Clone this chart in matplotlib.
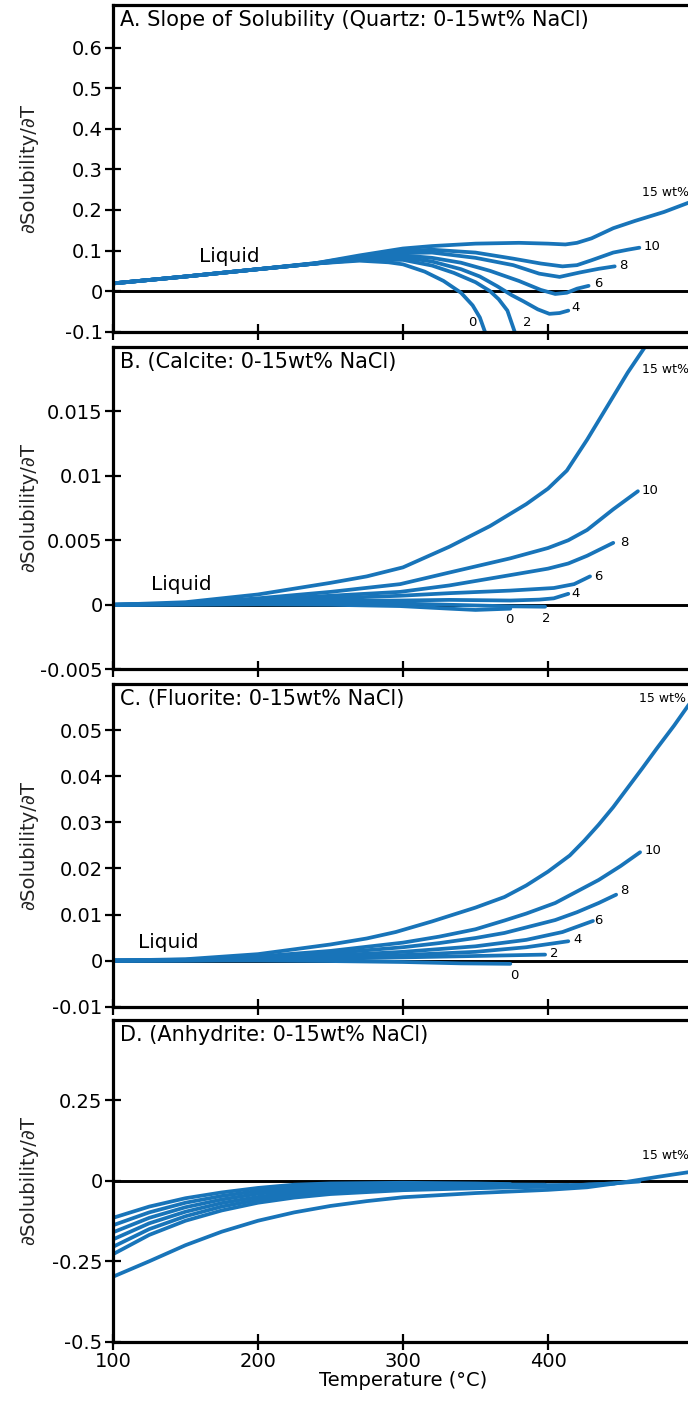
import matplotlib
matplotlib.use("Agg")
import matplotlib.pyplot as plt

plt.rcParams['font.family'] = ['DejaVu Sans']

BLUE = '#1874b9'

# ---------------- shared axis data ----------------
temp_ticks = [100, 200, 300, 400, 500]
temp_tick_labels = ['100', '200', '300', '400', '']
salinity_names = ['0', '2', '4', '6', '8', '10', '15 wt%']

# ---------------- A. Quartz ----------------
qz_yticks = [-0.1, 0, 0.1, 0.2, 0.3, 0.4, 0.5, 0.6]
qz_ylabels = ['-0.1', '0', '0.1', '0.2', '0.3', '0.4', '0.5', '0.6']

qz_T0 = [100, 150, 200, 240, 270, 290, 300, 315, 328, 340, 348, 353, 356.5]
qz_v0 = [0.019, 0.036, 0.054, 0.068, 0.075, 0.071, 0.066, 0.048, 0.025, -0.004, -0.035, -0.065, -0.1]
qz_T2 = [100, 150, 200, 240, 270, 300, 320, 335, 350, 360, 366, 372, 377]
qz_v2 = [0.019, 0.036, 0.054, 0.068, 0.077, 0.077, 0.063, 0.045, 0.022, 0.0, -0.02, -0.048, -0.1]
qz_T4 = [100, 150, 200, 240, 270, 300, 320, 340, 353, 365, 375, 383, 393, 401, 408, 414]
qz_v4 = [0.019, 0.036, 0.054, 0.068, 0.079, 0.083, 0.073, 0.054, 0.036, 0.012, -0.01, -0.025, -0.045, -0.056, -0.054, -0.048]
qz_T6 = [100, 150, 200, 240, 270, 300, 320, 340, 360, 380, 395, 405, 413, 420, 428]
qz_v6 = [0.019, 0.036, 0.054, 0.068, 0.081, 0.088, 0.082, 0.07, 0.05, 0.025, 0.003, -0.007, -0.004, 0.006, 0.013]
qz_T8 = [100, 150, 200, 240, 270, 300, 320, 350, 376, 394, 408, 422, 435, 446]
qz_v8 = [0.019, 0.036, 0.054, 0.068, 0.083, 0.094, 0.095, 0.082, 0.064, 0.043, 0.035, 0.046, 0.055, 0.061]
qz_T10 = [100, 150, 200, 240, 270, 300, 320, 350, 376, 395, 410, 420, 430, 445, 455, 463]
qz_v10 = [0.019, 0.036, 0.054, 0.069, 0.085, 0.099, 0.102, 0.095, 0.08, 0.068, 0.061, 0.064, 0.076, 0.095, 0.102, 0.107]
qz_T15 = [100, 150, 200, 240, 270, 300, 320, 350, 380, 400, 412, 420, 430, 445, 460, 480, 500]
qz_v15 = [0.019, 0.036, 0.054, 0.069, 0.088, 0.105, 0.111, 0.117, 0.119, 0.117, 0.115, 0.119, 0.13, 0.155, 0.173, 0.195, 0.222]

# ---------------- B. Calcite ----------------
cc_yticks = [-0.005, 0, 0.005, 0.01, 0.015]
cc_ylabels = ['-0.005', '0', '0.005', '0.01', '0.015']

cc_T0 = [100, 150, 200, 250, 298, 332, 350, 374]
cc_v0 = [0, 0.0, 0.00003, 0.0, -0.0001, -0.0003, -0.0004, -0.0003]
cc_T2 = [100, 150, 200, 250, 298, 332, 374, 398]
cc_v2 = [0, 0.00005, 0.0001, 0.00015, 0.0001, 0.0, -0.00012, -0.00015]
cc_T4 = [100, 150, 200, 250, 298, 332, 374, 394, 404, 414]
cc_v4 = [0, 0.00005, 0.0002, 0.0003, 0.00033, 0.00038, 0.00033, 0.0004, 0.0005, 0.00085]
cc_T6 = [100, 150, 200, 250, 298, 332, 374, 404, 418, 429]
cc_v6 = [0, 0.0001, 0.0003, 0.0005, 0.0007, 0.0009, 0.0011, 0.0013, 0.0016, 0.0022]
cc_T8 = [100, 150, 200, 250, 298, 332, 374, 400, 414, 427, 445]
cc_v8 = [0, 0.0001, 0.0004, 0.0007, 0.0010, 0.0015, 0.0023, 0.0028, 0.0032, 0.0038, 0.0048]
cc_T10 = [100, 150, 200, 250, 298, 332, 374, 400, 414, 427, 445, 462]
cc_v10 = [0, 0.0001, 0.0005, 0.0010, 0.0016, 0.0025, 0.0036, 0.0044, 0.0050, 0.0058, 0.0074, 0.0088]
cc_T15 = [100, 150, 200, 250, 275, 300, 332, 360, 385, 400, 413, 427, 441, 455, 470]
cc_v15 = [0, 0.0002, 0.0008, 0.0017, 0.0022, 0.0029, 0.0045, 0.0061, 0.0078, 0.0090, 0.0104, 0.0128, 0.0154, 0.018, 0.0205]

# ---------------- C. Fluorite ----------------
fl_yticks = [-0.01, 0, 0.01, 0.02, 0.03, 0.04, 0.05]
fl_ylabels = ['-0.01', '0', '0.01', '0.02', '0.03', '0.04', '0.05']

fl_T0 = [100, 200, 250, 300, 340, 374]
fl_v0 = [0, 0, -0.0001, -0.0003, -0.0006, -0.0007]
fl_T2 = [100, 150, 200, 250, 300, 350, 398]
fl_v2 = [0, 0.0, 0.0002, 0.0004, 0.0007, 0.001, 0.0013]
fl_T4 = [100, 150, 200, 250, 300, 350, 385, 414]
fl_v4 = [0, 0.0001, 0.0003, 0.0007, 0.0012, 0.0019, 0.0029, 0.0042]
fl_T6 = [100, 150, 200, 250, 300, 350, 385, 410, 431]
fl_v6 = [0, 0.0001, 0.0005, 0.0011, 0.0019, 0.0031, 0.0045, 0.0062, 0.0086]
fl_T8 = [100, 150, 200, 250, 300, 325, 350, 370, 385, 405, 420, 435, 447]
fl_v8 = [0, 0.0001, 0.0007, 0.0016, 0.0029, 0.0038, 0.0049, 0.0060, 0.0072, 0.0088, 0.0105, 0.0125, 0.0143]
fl_T10 = [100, 150, 200, 250, 300, 325, 350, 370, 385, 405, 420, 435, 450, 463.5]
fl_v10 = [0, 0.0002, 0.0009, 0.0021, 0.0039, 0.0052, 0.0068, 0.0087, 0.0102, 0.0125, 0.015, 0.0175, 0.0205, 0.0235]
fl_T15 = [100, 150, 200, 250, 275, 295, 320, 350, 370, 385, 400, 415, 425, 435, 445, 455, 465, 475, 487, 500]
fl_v15 = [0, 0.0003, 0.0014, 0.0035, 0.0048, 0.0062, 0.0085, 0.0115, 0.0138, 0.0163, 0.0193, 0.0228, 0.026, 0.0295,
          0.0333, 0.0375, 0.0417, 0.046, 0.051, 0.0568]

# ---------------- D. Anhydrite ----------------
an_yticks = [-0.5, -0.25, 0, 0.25]
an_ylabels = ['-0.5', '-0.25', '0', '0.25']

an_T0 = [100, 125, 150, 175, 200, 225, 250, 300, 350, 374]
an_v0 = [-0.115, -0.08, -0.054, -0.036, -0.022, -0.012, -0.008, -0.006, -0.008, -0.01]
an_T2 = [100, 125, 150, 175, 200, 225, 250, 300, 350, 398]
an_v2 = [-0.138, -0.098, -0.068, -0.047, -0.031, -0.02, -0.014, -0.01, -0.011, -0.012]
an_T4 = [100, 125, 150, 175, 200, 225, 250, 300, 350, 414]
an_v4 = [-0.16, -0.115, -0.082, -0.058, -0.04, -0.028, -0.02, -0.014, -0.014, -0.013]
an_T6 = [100, 125, 150, 175, 200, 225, 250, 300, 350, 400, 429]
an_v6 = [-0.182, -0.132, -0.096, -0.069, -0.05, -0.036, -0.027, -0.019, -0.017, -0.015, -0.012]
an_T8 = [100, 125, 150, 175, 200, 225, 250, 300, 350, 400, 446]
an_v8 = [-0.205, -0.15, -0.11, -0.08, -0.059, -0.044, -0.034, -0.024, -0.02, -0.017, -0.008]
an_T10 = [100, 125, 150, 175, 200, 225, 250, 300, 350, 400, 445, 463]
an_v10 = [-0.228, -0.168, -0.124, -0.092, -0.068, -0.052, -0.041, -0.029, -0.023, -0.018, -0.008, -0.002]
an_T15 = [100, 125, 150, 175, 200, 225, 250, 275, 300, 350, 400, 427, 453, 475, 500]
an_v15 = [-0.298, -0.25, -0.2, -0.158, -0.124, -0.098, -0.078, -0.063, -0.051, -0.038, -0.028, -0.02, -0.004, 0.012, 0.029]

# ---------------- figure layout ----------------
W, H = 688, 1403
fig = plt.figure(figsize=(W / 100, H / 100), dpi=100)

AX_LEFT_PX = 113
AX_RIGHT_PX = 693  # T = 500 lies just past the right edge


def axes_rect(top_px, bottom_px):
    return [AX_LEFT_PX / W, (H - bottom_px) / H,
            (AX_RIGHT_PX - AX_LEFT_PX) / W, (bottom_px - top_px) / H]


panels = [
    dict(rect=axes_rect(5, 331.7), ylim=(-0.1, 0.705), yticks=qz_yticks, ylabels=qz_ylabels,
         title='A. Slope of Solubility (Quartz: 0-15wt% NaCl)',
         curves=[(qz_T0, qz_v0), (qz_T2, qz_v2), (qz_T4, qz_v4), (qz_T6, qz_v6),
                 (qz_T8, qz_v8), (qz_T10, qz_v10), (qz_T15, qz_v15)],
         labels=[(347.6, -0.077), (385.5, -0.077), (419, -0.040), (434.5, 0.019),
                 (451.7, 0.063), (472, 0.110), (464.8, 0.243)],
         liquid=(159, 0.085)),
    dict(rect=axes_rect(346.7, 669.3), ylim=(-0.005, 0.02), yticks=cc_yticks, ylabels=cc_ylabels,
         title='B. (Calcite: 0-15wt% NaCl)',
         curves=[(cc_T0, cc_v0), (cc_T2, cc_v2), (cc_T4, cc_v4), (cc_T6, cc_v6),
                 (cc_T8, cc_v8), (cc_T10, cc_v10), (cc_T15, cc_v15)],
         labels=[(373, -0.00116), (399, -0.00103), (419, 0.00085), (435, 0.00219),
                 (452.4, 0.00482), (470, 0.00885), (464.6, 0.0182)],
         liquid=(126, 0.00155)),
    dict(rect=axes_rect(684, 1006.7), ylim=(-0.01, 0.06), yticks=fl_yticks, ylabels=fl_ylabels,
         title='C. (Fluorite: 0-15wt% NaCl)',
         curves=[(fl_T0, fl_v0), (fl_T2, fl_v2), (fl_T4, fl_v4), (fl_T6, fl_v6),
                 (fl_T8, fl_v8), (fl_T10, fl_v10), (fl_T15, fl_v15)],
         labels=[(377, -0.00326), (404, 0.0016), (420.5, 0.0045), (434.7, 0.0087),
                 (452.6, 0.0152), (472.6, 0.0239), (462.8, 0.0569)],
         liquid=(117, 0.0039)),
    dict(rect=axes_rect(1020, 1341.7), ylim=(-0.5, 0.5), yticks=an_yticks, ylabels=an_ylabels,
         title='D. (Anhydrite: 0-15wt% NaCl)',
         curves=[(an_T0, an_v0), (an_T2, an_v2), (an_T4, an_v4), (an_T6, an_v6),
                 (an_T8, an_v8), (an_T10, an_v10), (an_T15, an_v15)],
         labels=[None, None, None, None, None, None, (464.7, 0.078)],
         liquid=None),
]

for i, p in enumerate(panels):
    ax = fig.add_axes(p['rect'])
    ax.set_xlim(100, 500)
    ax.set_ylim(*p['ylim'])

    for side in ('top', 'left', 'bottom'):
        ax.spines[side].set_linewidth(2.3)
        ax.spines[side].set_color('black')
    ax.spines['right'].set_visible(False)

    ax.axhline(0, color='black', lw=2.1, zorder=1)

    for T, v in p['curves']:
        ax.plot(T, v, color=BLUE, lw=2.7, solid_capstyle='round',
                solid_joinstyle='round', zorder=2)

    for name, pos in zip(salinity_names, p['labels']):
        if pos is None:
            continue
        if name.endswith('wt%'):
            ax.text(pos[0], pos[1], name, fontsize=9, ha='left', va='center',
                    clip_on=False, zorder=3)
        else:
            ax.text(pos[0], pos[1], name, fontsize=9.5, ha='center', va='center',
                    clip_on=False, zorder=3)

    if p['liquid'] is not None:
        ax.text(p['liquid'][0], p['liquid'][1], 'Liquid', fontsize=14.5,
                ha='left', va='center', zorder=3)

    ax.annotate(p['title'], xy=(0, 1), xycoords='axes fraction',
                xytext=(7, -5), textcoords='offset pixels',
                ha='left', va='top', fontsize=15)

    ax.set_xticks(temp_ticks)
    ax.set_yticks(p['yticks'])
    ax.set_yticklabels(p['ylabels'])
    ax.tick_params(axis='both', direction='inout', length=11, width=1.6,
                   labelsize=14, pad=2, color='black')
    if i == len(panels) - 1:
        ax.set_xticklabels(temp_tick_labels)
        ax.set_xlabel('Temperature (°C)', fontsize=14, labelpad=0)
    else:
        ax.tick_params(axis='x', labelbottom=False)

    r = p['rect']
    fig.text(29 / W, r[1] + r[3] / 2, '∂Solubility/∂T', rotation=90,
             ha='center', va='center', fontsize=14, color='#222222')

fig.savefig('out.png', dpi=100)
